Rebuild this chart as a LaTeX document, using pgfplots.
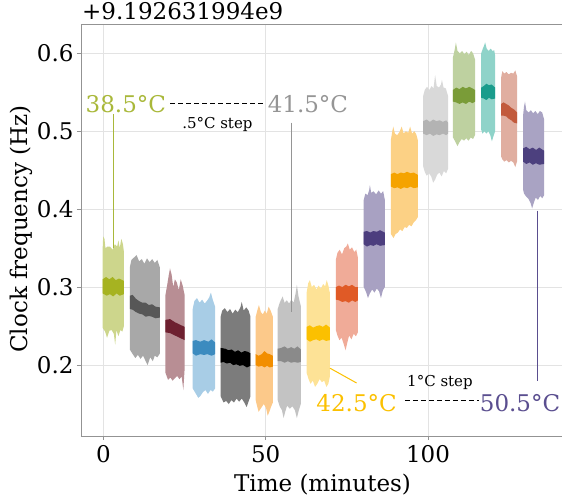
\documentclass[border=0pt]{standalone}
\usepackage{pgfplots}
\pgfplotsset{compat=1.18}
\usepackage{fontspec}
\setmainfont{DejaVu Serif}
\definecolor{l1}{HTML}{CDD68C}\definecolor{d1}{HTML}{A6B321}
\definecolor{l2}{HTML}{A8A8A8}\definecolor{d2}{HTML}{575757}
\definecolor{l3}{HTML}{B88E94}\definecolor{d3}{HTML}{6E2030}
\definecolor{l4}{HTML}{A8CDE6}\definecolor{d4}{HTML}{3C8BBF}
\definecolor{l5}{HTML}{7C7C7C}\definecolor{d5}{HTML}{000000}
\definecolor{l6}{HTML}{FCC98A}\definecolor{d6}{HTML}{F28E00}
\definecolor{l7}{HTML}{C3C3C3}\definecolor{d7}{HTML}{8A8A8A}
\definecolor{l8}{HTML}{FDE296}\definecolor{d8}{HTML}{FBC000}
\definecolor{l9}{HTML}{F0AB98}\definecolor{d9}{HTML}{E05A26}
\definecolor{l10}{HTML}{A8A1C2}\definecolor{d10}{HTML}{4C3E7E}
\definecolor{l11}{HTML}{FCD185}\definecolor{d11}{HTML}{F5A300}
\definecolor{l12}{HTML}{D9D9D9}\definecolor{d12}{HTML}{B3B3B3}
\definecolor{l13}{HTML}{BED1A0}\definecolor{d13}{HTML}{7A9C38}
\definecolor{l14}{HTML}{8FD3C9}\definecolor{d14}{HTML}{1A9C8C}
\definecolor{l15}{HTML}{E0AEA0}\definecolor{d15}{HTML}{C25A3C}
\definecolor{l16}{HTML}{A9A3C3}\definecolor{d16}{HTML}{4C407E}
\definecolor{tgreen}{HTML}{A9B83A}
\definecolor{tgray}{HTML}{959595}
\definecolor{tyellow}{HTML}{FBC000}
\definecolor{tpurple}{HTML}{5A4E8F}
\newcommand\blk[4]{%
  \addplot[fill=#1,draw=none] coordinates {#3};
  \addplot[fill=#2,draw=none] coordinates {#4};}
\newcommand\bigf{\fontsize{23}{27}\selectfont}
\newcommand\smallf{\fontsize{15}{18}\selectfont}
\begin{document}
\begin{tikzpicture}
\begin{axis}[
  scale only axis, width=481pt, height=412pt,
  xmin=-6.93, xmax=141.3, ymin=0.109, ymax=0.6376,
  axis x line=box, axis y line=left,
  axis line style={-, draw=gray!85, line width=0.9pt},
  xtick={0,50,100}, ytick={0.2,0.3,0.4,0.5,0.6},
  xtick pos=bottom, ytick pos=left,
  tick align=outside, major tick length=4pt,
  tick style={draw=gray!85, line width=0.8pt},
  grid=major, grid style={draw=black!11, line width=0.8pt},
  /pgf/number format/assume math mode=true,
  ticklabel style={font=\bigf},
  yticklabel style={/pgf/number format/.cd, fixed, precision=1, fixed zerofill},
  xticklabel style={yshift=-2pt},
  clip=false,
]
\blk{l1}{d1}{(-0.3,0.345) (-0.1,0.365) (0.3,0.362) (0.6,0.35) (1.2,0.352) (2,0.352) (2.8,0.348) (3.5,0.355) (4.2,0.352) (4.6,0.36) (5.0,0.35) (5.5,0.362) (6.0,0.355) (6.3,0.345)
(6.3,0.25) (5.8,0.243) (5.2,0.245) (4.6,0.237) (4.0,0.245) (3.6,0.226) (3.2,0.24) (2.5,0.245) (1.8,0.244) (1.1,0.235) (0.5,0.243) (-0.3,0.248)}
{(-0.3,0.31)(0.8,0.313)(1.8,0.31)(2.8,0.313)(3.8,0.309)(4.8,0.311)(6.3,0.308)(6.3,0.291)(5,0.289)(4,0.292)(3,0.288)(2,0.291)(1,0.289)(-0.3,0.292)}
\blk{l2}{d2}{(8.1,0.325)(8.6,0.335)(9.4,0.338)(10.2,0.341)(11.0,0.333)(11.8,0.336)(12.6,0.33)(13.4,0.337)(14.2,0.332)(15.0,0.336)(15.8,0.331)(16.6,0.335)(17.4,0.325)
(17.4,0.215)(16.6,0.21)(15.8,0.212)(15.2,0.205)(14.4,0.21)(13.6,0.2)(13.0,0.205)(12.2,0.212)(11.4,0.208)(10.6,0.213)(9.8,0.209)(9.0,0.214)(8.1,0.22)}
{(8.1,0.289)(9,0.29)(10,0.285)(11,0.282)(12,0.28)(13,0.28)(14,0.277)(15,0.278)(16,0.275)(17.4,0.274)(17.4,0.261)(16,0.26)(15,0.262)(14,0.263)(13,0.262)(12,0.265)(11,0.266)(10,0.268)(9,0.271)(8.1,0.272)}
\blk{l3}{d3}{(19.1,0.29)(19.6,0.302)(20.1,0.315)(20.5,0.324)(21.0,0.316)(21.5,0.3)(22.0,0.31)(22.6,0.306)(23.2,0.296)(23.8,0.31)(24.4,0.302)(25.0,0.29)
(25.0,0.195)(24.6,0.168)(24.1,0.185)(23.4,0.182)(22.7,0.186)(22.0,0.183)(21.3,0.18)(20.6,0.184)(19.9,0.181)(19.1,0.19)}
{(19.1,0.258)(20.5,0.259)(22,0.255)(23.5,0.252)(25,0.249)(25,0.232)(23.5,0.235)(22,0.238)(20.5,0.241)(19.1,0.242)}
\blk{l4}{d4}{(27.5,0.272)(28,0.282)(28.8,0.286)(29.6,0.28)(30.4,0.284)(31.2,0.279)(32,0.283)(32.6,0.287)(33.1,0.293)(33.6,0.285)(34.4,0.275)
(34.4,0.17)(33.7,0.166)(33,0.168)(32.2,0.163)(31.4,0.168)(30.6,0.165)(29.8,0.16)(29.2,0.158)(28.5,0.163)(27.5,0.17)}
{(27.5,0.231)(28.5,0.232)(29.8,0.23)(31,0.232)(32.3,0.23)(33.3,0.233)(34.4,0.229)(34.4,0.214)(33.3,0.212)(32,0.214)(31,0.213)(29.8,0.214)(28.5,0.212)(27.5,0.215)}
\blk{l5}{d5}{(36.1,0.262)(36.6,0.27)(37.4,0.273)(38.2,0.268)(39,0.272)(39.8,0.266)(40.6,0.271)(41.4,0.268)(42.2,0.274)(42.6,0.281)(43.2,0.27)(44,0.274)(44.7,0.27)(45.3,0.262)
(45.3,0.16)(44.6,0.152)(44.1,0.146)(43.4,0.152)(42.6,0.157)(41.8,0.153)(41,0.157)(40.2,0.152)(39.4,0.155)(38.6,0.15)(37.8,0.154)(37,0.152)(36.1,0.16)}
{(36.1,0.222)(37.5,0.221)(38.5,0.219)(39.5,0.22)(40.5,0.217)(41.5,0.219)(42.5,0.216)(43.5,0.218)(44.5,0.217)(45.3,0.215)(45.3,0.199)(44.2,0.197)(43,0.2)(42,0.199)(41,0.201)(40,0.2)(39,0.203)(38,0.202)(37,0.204)(36.1,0.203)}
\blk{l6}{d6}{(46.9,0.262)(47.4,0.27)(47.9,0.277)(48.5,0.268)(49.1,0.265)(49.7,0.27)(50.3,0.266)(50.9,0.275)(51.5,0.27)(52.2,0.262)
(52.2,0.152)(51.6,0.146)(51.1,0.14)(50.6,0.135)(50.1,0.145)(49.4,0.15)(48.6,0.145)(47.8,0.14)(47.3,0.148)(46.9,0.155)}
{(46.9,0.214)(47.8,0.212)(48.8,0.214)(49.6,0.218)(50.4,0.215)(51.2,0.214)(52.2,0.212)(52.2,0.198)(51.2,0.197)(50.4,0.199)(49.6,0.197)(48.8,0.199)(47.8,0.198)(46.9,0.2)}
\blk{l7}{d7}{(53.7,0.272)(54.3,0.28)(55.2,0.288)(55.8,0.28)(56.5,0.283)(57.2,0.279)(57.9,0.284)(58.6,0.28)(59.2,0.292)(59.6,0.303)(60.1,0.288)(60.8,0.276)
(60.8,0.15)(60.2,0.142)(59.6,0.132)(59,0.142)(58.2,0.147)(57.4,0.144)(56.6,0.148)(56,0.14)(55.5,0.132)(55,0.142)(54.3,0.147)(53.7,0.155)}
{(53.7,0.221)(54.8,0.222)(55.8,0.224)(56.8,0.221)(57.8,0.223)(58.8,0.221)(59.8,0.224)(60.8,0.22)(60.8,0.204)(59.8,0.203)(58.8,0.204)(57.8,0.203)(56.8,0.205)(55.8,0.203)(54.8,0.205)(53.7,0.205)}
\blk{l8}{d8}{(62.6,0.293)(63.1,0.305)(63.6,0.309)(64.2,0.3)(64.9,0.303)(65.6,0.297)(66.3,0.302)(67,0.298)(67.7,0.304)(68.3,0.301)(68.8,0.309)(69.3,0.302)(69.8,0.292)
(69.8,0.186)(69.3,0.176)(68.7,0.172)(68,0.18)(67.3,0.178)(66.6,0.182)(65.9,0.176)(65.2,0.172)(64.5,0.18)(63.8,0.176)(63.2,0.182)(62.6,0.19)}
{(62.6,0.249)(63.6,0.251)(64.6,0.248)(65.6,0.25)(66.6,0.251)(67.6,0.249)(68.6,0.252)(69.8,0.248)(69.8,0.232)(68.6,0.231)(67.6,0.233)(66.6,0.231)(65.6,0.233)(64.6,0.232)(63.6,0.23)(62.6,0.233)}
\blk{l9}{d9}{(71.6,0.335)(72.1,0.344)(72.8,0.348)(73.5,0.342)(74.2,0.35)(74.8,0.352)(75.3,0.356)(75.9,0.348)(76.6,0.351)(77.3,0.345)(77.9,0.348)(78.4,0.338)
(78.4,0.242)(77.8,0.237)(77.1,0.24)(76.4,0.233)(75.7,0.238)(75.1,0.228)(74.6,0.219)(74.1,0.226)(73.4,0.235)(72.7,0.232)(72.1,0.238)(71.6,0.245)}
{(71.6,0.3)(72.6,0.302)(73.6,0.3)(74.6,0.303)(75.6,0.301)(76.6,0.303)(77.6,0.3)(78.4,0.3)(78.4,0.283)(77.6,0.281)(76.6,0.283)(75.6,0.28)(74.6,0.282)(73.6,0.281)(72.6,0.283)(71.6,0.284)}
\blk{l10}{d10}{(80.2,0.412)(80.7,0.42)(81.4,0.418)(81.9,0.425)(82.1,0.431)(82.5,0.421)(83.2,0.423)(84,0.419)(84.8,0.424)(85.5,0.42)(86.2,0.423)(86.7,0.412)
(86.7,0.3)(86.1,0.296)(85.5,0.286)(84.9,0.295)(84.2,0.298)(83.5,0.293)(82.8,0.297)(82.1,0.292)(81.5,0.286)(80.9,0.294)(80.2,0.3)}
{(80.2,0.371)(81.2,0.372)(82.2,0.37)(83.2,0.372)(84.2,0.371)(85.2,0.373)(86.7,0.37)(86.7,0.354)(85.2,0.353)(84.2,0.355)(83.2,0.353)(82.2,0.354)(81.2,0.352)(80.2,0.355)}
\blk{l11}{d11}{(88.6,0.49)(89,0.5)(89.3,0.506)(89.8,0.497)(90.5,0.495)(91.2,0.499)(91.9,0.506)(92.5,0.497)(93.2,0.5)(93.9,0.498)(94.5,0.506)(95.1,0.497)(95.8,0.5)(96.4,0.496)(96.9,0.488)
(96.9,0.39)(96.3,0.386)(95.6,0.383)(94.9,0.378)(94.2,0.38)(93.5,0.376)(92.8,0.377)(92.1,0.372)(91.4,0.374)(90.7,0.37)(90,0.368)(89.4,0.363)(88.6,0.368)}
{(88.6,0.445)(89.6,0.447)(90.6,0.445)(91.6,0.447)(92.6,0.446)(93.6,0.448)(94.6,0.446)(95.6,0.447)(96.9,0.444)(96.9,0.428)(95.6,0.427)(94.6,0.429)(93.6,0.427)(92.6,0.428)(91.6,0.426)(90.6,0.428)(89.6,0.427)(88.6,0.429)}
\blk{l12}{d12}{(98.5,0.545)(99,0.553)(99.7,0.557)(100.4,0.553)(101.1,0.558)(101.7,0.555)(102.2,0.572)(102.7,0.558)(103.4,0.556)(104,0.56)(104.3,0.566)(104.8,0.556)(105.5,0.555)(106.2,0.545)
(106.2,0.452)(105.6,0.446)(104.9,0.449)(104.2,0.442)(103.5,0.447)(102.8,0.444)(102.2,0.438)(101.6,0.434)(101,0.442)(100.3,0.446)(99.6,0.443)(99,0.448)(98.5,0.455)}
{(98.5,0.513)(99.6,0.515)(100.6,0.512)(101.6,0.515)(102.6,0.513)(103.6,0.514)(104.6,0.512)(105.6,0.514)(106.2,0.511)(106.2,0.497)(105.6,0.495)(104.6,0.497)(103.6,0.495)(102.6,0.496)(101.6,0.494)(100.6,0.497)(99.6,0.495)(98.5,0.497)}
\blk{l13}{d13}{(107.7,0.595)(108.2,0.604)(108.6,0.614)(109.1,0.603)(109.8,0.6)(110.5,0.603)(111.2,0.599)(111.9,0.602)(112.6,0.598)(113.3,0.603)(113.9,0.6)(114.5,0.592)
(114.5,0.495)(113.9,0.49)(113.2,0.492)(112.5,0.488)(111.8,0.491)(111.1,0.488)(110.4,0.49)(109.7,0.486)(109.1,0.481)(108.5,0.486)(107.7,0.492)}
{(107.7,0.553)(108.7,0.556)(109.7,0.554)(110.7,0.557)(111.7,0.555)(112.7,0.557)(113.7,0.555)(114.5,0.553)(114.5,0.538)(113.7,0.536)(112.7,0.538)(111.7,0.535)(110.7,0.537)(109.7,0.535)(108.7,0.537)(107.7,0.538)}
\blk{l14}{d14}{(116.4,0.6)(116.9,0.606)(117.3,0.61)(117.6,0.614)(118.1,0.606)(118.7,0.603)(119.3,0.606)(119.9,0.603)(120.4,0.604)(120.7,0.597)
(120.7,0.5)(120.2,0.494)(119.7,0.487)(119.2,0.495)(118.6,0.5)(118,0.497)(117.4,0.5)(116.8,0.497)(116.4,0.502)}
{(116.4,0.556)(117.2,0.558)(118,0.561)(118.8,0.559)(119.6,0.56)(120.7,0.556)(120.7,0.542)(119.6,0.541)(118.8,0.543)(118,0.54)(117.2,0.542)(116.4,0.543)}
\blk{l15}{d15}{(122.5,0.568)(122.9,0.577)(123.5,0.574)(124.2,0.576)(124.9,0.573)(125.6,0.575)(126.3,0.574)(126.9,0.578)(127.5,0.57)
(127.5,0.462)(126.9,0.454)(126.3,0.46)(125.6,0.462)(124.9,0.46)(124.2,0.463)(123.5,0.461)(122.9,0.464)(122.5,0.468)}
{(122.5,0.535)(123.3,0.537)(124.1,0.535)(124.9,0.533)(125.7,0.53)(126.5,0.528)(127.5,0.524)(127.5,0.51)(126.5,0.511)(125.7,0.514)(124.9,0.516)(124.1,0.519)(123.3,0.52)(122.5,0.52)}
\blk{l16}{d16}{(129.3,0.52)(129.6,0.532)(129.9,0.538)(130.3,0.527)(131,0.524)(131.7,0.527)(132.4,0.523)(133.1,0.526)(133.8,0.522)(134.5,0.526)(135.2,0.524)(135.8,0.515)
(135.8,0.418)(135.2,0.414)(134.6,0.417)(133.9,0.412)(133.2,0.415)(132.6,0.408)(132.1,0.401)(131.6,0.408)(131,0.413)(130.3,0.416)(129.6,0.42)(129.3,0.425)}
{(129.3,0.478)(130.3,0.48)(131.3,0.477)(132.3,0.479)(133.3,0.476)(134.3,0.479)(135.8,0.475)(135.8,0.458)(134.3,0.457)(133.3,0.459)(132.3,0.457)(131.3,0.46)(130.3,0.458)(129.3,0.461)}
% annotation lines
\addplot[tgreen, line width=1pt] coordinates {(3.0,0.522) (3.0,0.35)};
\addplot[tgray, line width=1pt] coordinates {(57.8,0.511) (57.8,0.268)};
\addplot[tpurple, line width=1pt] coordinates {(133.6,0.398) (133.6,0.179)};
\addplot[tyellow, line width=1pt] coordinates {(69.8,0.196) (78.0,0.177)};
\addplot[black, line width=1pt, dash pattern=on 5pt off 3pt] coordinates {(20.5,0.535) (49.5,0.535)};
\addplot[black, line width=1pt, dash pattern=on 5pt off 3pt] coordinates {(92.9,0.154) (115.6,0.154)};
\node[anchor=base, text=tgreen, font=\bigf, inner sep=0] at (axis cs:6.9,0.5235) {38.5°C};
\node[anchor=base, text=tgray, font=\bigf, inner sep=0] at (axis cs:63.0,0.5235) {41.5°C};
\node[anchor=base, text=tyellow, font=\bigf, inner sep=0] at (axis cs:78.0,0.1405) {42.5°C};
\node[anchor=base east, text=tpurple, font=\bigf, inner sep=0] at (axis cs:140.8,0.1405) {50.5°C};
\node[anchor=base, font=\smallf, inner sep=0] at (axis cs:35.1,0.504) {.5°C step};
\node[anchor=base, font=\smallf, inner sep=0] at (axis cs:103.7,0.172) {1°C step};
\end{axis}
\node[anchor=base west, inner sep=0, font=\bigf] at (1pt,416pt) {+9.192631994e9};
\node[rotate=90, font=\bigf, inner sep=0] at (-60pt,207pt) {Clock frequency (Hz)};
\node[anchor=base, font=\bigf, inner sep=0] at (241.5pt,-56pt) {Time (minutes)};
\pgfresetboundingbox
\useasboundingbox (-81pt,-64pt) rectangle (481pt,436pt);
\end{tikzpicture}
\end{document}
